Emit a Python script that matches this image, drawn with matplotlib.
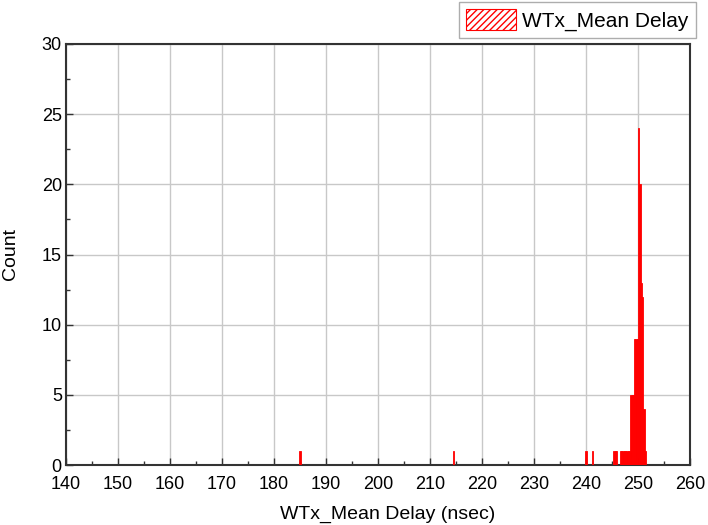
import matplotlib
matplotlib.use('Agg')
import matplotlib.pyplot as plt
from matplotlib.patches import Patch
from matplotlib.ticker import MultipleLocator

plt.rcParams['font.family'] = ['Liberation Sans', 'DejaVu Sans']

# histogram bins (centre, count)
bin_width = 0.25
bin_centers = [185.0, 214.5, 240.0, 241.25,
               245.375, 245.625, 245.875,
               246.625, 246.875, 247.125, 247.375, 247.625, 247.875, 248.125,
               248.375, 248.625, 248.875, 249.125,
               249.375, 249.625, 249.875,
               250.125, 250.375, 250.625, 250.875, 251.125, 251.375]
bin_counts = [1, 1, 1, 1,
              1, 1, 1,
              1, 1, 1, 1, 1, 1, 1,
              1, 5, 5, 5,
              9, 9, 9,
              24, 20, 13, 12, 4, 1]

series_name = 'WTx_Mean Delay'
x_label = 'WTx_Mean Delay (nsec)'
y_label = 'Count'

fig = plt.figure(figsize=(7.08, 5.25), dpi=100)
ax = fig.add_axes([66/708, 1 - 465/525, 624/708, 421/525])

ax.bar(bin_centers, bin_counts, width=bin_width, color='red',
       edgecolor='red', linewidth=0.6, zorder=3)

ax.set_xlim(140, 260)
ax.set_ylim(0, 30)
ax.xaxis.set_major_locator(MultipleLocator(10))
ax.xaxis.set_minor_locator(MultipleLocator(5))
ax.yaxis.set_major_locator(MultipleLocator(5))
ax.yaxis.set_minor_locator(MultipleLocator(2.5))
ax.tick_params(which='both', direction='in', labelsize=13, width=1, color='#333333')
ax.tick_params(which='major', length=5)
ax.tick_params(axis='x', which='major', pad=8)
ax.tick_params(axis='y', which='major', pad=3)
ax.tick_params(which='minor', length=3)
ax.grid(True, which='major', color='#c8c8c8', linewidth=1, zorder=0)
ax.set_axisbelow(True)
for sp in ax.spines.values():
    sp.set_linewidth(1.5)
    sp.set_color('#333333')

ax.set_xlabel(x_label, fontsize=14)
ax.set_ylabel(y_label, fontsize=14)
ax.xaxis.set_label_coords(0.515, -0.097)
ax.yaxis.set_label_coords(-0.075, 0.5)

handle = Patch(facecolor='white', edgecolor='red', hatch='/////', linewidth=0.8)
leg = fig.legend([handle], [series_name], loc='upper right',
                 bbox_to_anchor=(696/708, 1 - 2/525), fontsize=15,
                 fancybox=False, frameon=True, edgecolor='#999999',
                 handlelength=2.4, handleheight=1.15, borderpad=0.35,
                 handletextpad=0.3, borderaxespad=0)
leg.get_frame().set_linewidth(1)

fig.savefig('out.png', dpi=100)
